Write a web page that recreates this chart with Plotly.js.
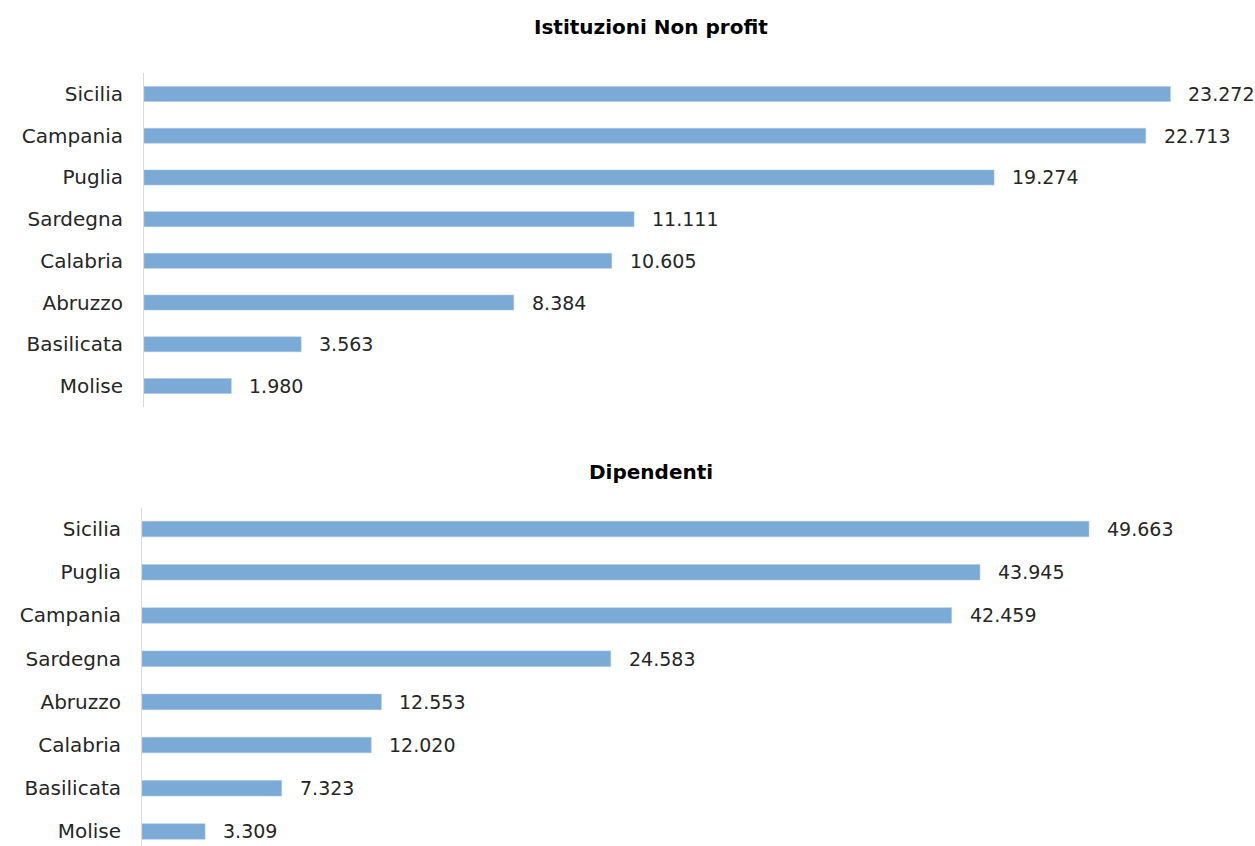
<!DOCTYPE html>
<html>
<head>
<meta charset="utf-8">
<script src="https://cdn.plot.ly/plotly-3.0.1.min.js"></script>
<style>html,body{margin:0;padding:0;background:#fff;}#chart{width:1255px;height:846px;}</style>
</head>
<body>
<div id="chart"></div>
<script>
// Data (top-to-bottom display order)
const titleTop = "Istituzioni Non profit";
const titleBottom = "Dipendenti";
const regioniTop = ["Sicilia","Campania","Puglia","Sardegna","Calabria","Abruzzo","Basilicata","Molise"];
const istituzioni = [23272,22713,19274,11111,10605,8384,3563,1980];
const regioniBottom = ["Sicilia","Puglia","Campania","Sardegna","Abruzzo","Calabria","Basilicata","Molise"];
const dipendenti = [49663,43945,42459,24583,12553,12020,7323,3309];

const FONT = "DejaVu Sans, sans-serif";
const TXT = "#262626";
const BAR = "#7BAAD7";

function fmt(v){ return String(v).replace(/\B(?=(\d{3})+(?!\d))/g, "."); }

const yT = regioniTop.slice().reverse();
const xT = istituzioni.slice().reverse();
const yB = regioniBottom.slice().reverse();
const xB = dipendenti.slice().reverse();

const traces = [
  {type:"bar", orientation:"h", x:xT, y:yT, xaxis:"x", yaxis:"y",
   marker:{color:BAR, line:{color:"#A6C5E5", width:0.5}}, hoverinfo:"x+y"},
  {type:"bar", orientation:"h", x:xB, y:yB, xaxis:"x2", yaxis:"y2",
   marker:{color:BAR, line:{color:"#A6C5E5", width:0.5}}, hoverinfo:"x+y"}
];

const annotations = [];
yT.forEach((c,i)=>annotations.push({x:xT[i], y:c, xref:"x", yref:"y", text:fmt(xT[i]),
  showarrow:false, xanchor:"left", xshift:16, font:{family:FONT,size:19,color:TXT}}));
yB.forEach((c,i)=>annotations.push({x:xB[i], y:c, xref:"x2", yref:"y2", text:fmt(xB[i]),
  showarrow:false, xanchor:"left", xshift:16, font:{family:FONT,size:19,color:TXT}}));
annotations.push({text:"<b>"+titleTop+"</b>", xref:"paper", yref:"paper", x:651/1255, y:1-27/846,
  xanchor:"center", yanchor:"middle", showarrow:false, font:{family:FONT,size:20,color:"#000"}});
annotations.push({text:"<b>"+titleBottom+"</b>", xref:"paper", yref:"paper", x:651/1255, y:1-472/846,
  xanchor:"center", yanchor:"middle", showarrow:false, font:{family:FONT,size:20,color:"#000"}});

const yaxisCommon = {type:"category", showline:true, linecolor:"#D9D9D9", linewidth:1,
  showgrid:false, zeroline:false, ticks:"outside", ticklen:16, tickcolor:"rgba(0,0,0,0)",
  tickfont:{family:FONT,size:20,color:TXT}, fixedrange:true};
const xaxisCommon = {showgrid:false, zeroline:false, showline:false, showticklabels:false, ticks:"", fixedrange:true};

const layout = {
  width:1255, height:846,
  margin:{l:0,r:0,t:0,b:0},
  paper_bgcolor:"#fff", plot_bgcolor:"#fff",
  showlegend:false, bargap:0.64,
  font:{family:FONT, color:TXT},
  xaxis:Object.assign({}, xaxisCommon, {domain:[144/1255,1], range:[0,25190], anchor:"y"}),
  yaxis:Object.assign({}, yaxisCommon, {domain:[1-407/846, 1-73/846], range:[-0.503,7.503], anchor:"x"}),
  xaxis2:Object.assign({}, xaxisCommon, {domain:[142/1255,1], range:[0,58370], anchor:"y2"}),
  yaxis2:Object.assign({}, yaxisCommon, {domain:[0, 1-508/846], range:[-0.336,7.487], anchor:"x2"}),
  annotations:annotations
};

Plotly.newPlot("chart", traces, layout, {displayModeBar:false, staticPlot:true});
</script>
</body>
</html>
